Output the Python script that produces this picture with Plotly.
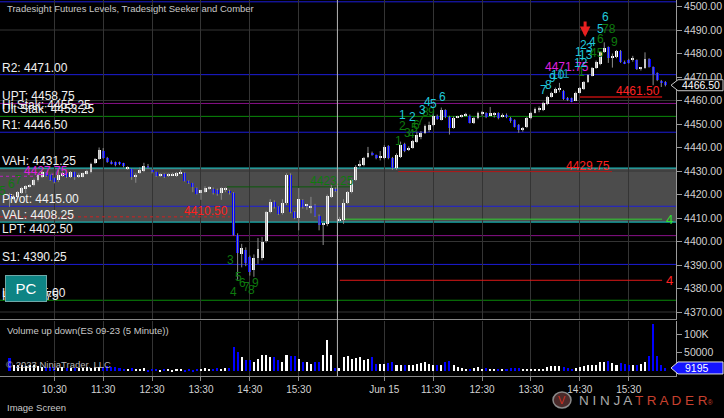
import plotly.graph_objects as go

# ------------------------------------------------------------------ data
tick_labels_hours = ["10:30", "11:30", "12:30", "13:30", "14:30", "15:30"]
session_first_tick = ["10:30", "Jun 15"]          # first label of each session
bars_per_session = 81                              # 5-minute bars 09:35 .. 16:15

opens1 = [4420, 4418.5, 4419, 4420.75, 4422.5, 4423.5, 4424, 4426, 4427.5, 4429.25,
          4428.25, 4427, 4426.25, 4428, 4429.25, 4427.5, 4429.5, 4427.5, 4427.5, 4428.75,
          4429.5, 4433.25, 4435, 4438.5, 4435.5, 4434, 4433.75, 4433.5, 4433.25, 4431,
          4430.75, 4427.5, 4429, 4430, 4432.25, 4430.5, 4429.5, 4428, 4428.75, 4428,
          4428.25, 4427.75, 4429, 4429.25, 4425.75, 4424.75, 4422.75, 4420.5, 4421, 4422.5,
          4422.5, 4422, 4420.5, 4422, 4421.5, 4420.5, 4402.75, 4394.75, 4396.5, 4393.5,
          4387.75, 4393, 4393, 4400.25, 4412.5, 4416.75, 4414.5, 4412, 4416.25, 4428.25,
          4412.5, 4410, 4417.75, 4415.5, 4414.5, 4415.5, 4411, 4407.25, 4407.5, 4419,
          4422.5]
highs1 = [4420.5, 4420, 4421.5, 4423.25, 4424, 4424.5, 4426.75, 4428.75, 4430, 4429.5,
          4428.5, 4427.25, 4430.5, 4429.75, 4429.5, 4430, 4429.75, 4429, 4429.25, 4430.5,
          4433.5, 4435.5, 4440, 4439.75, 4436, 4434.5, 4434, 4434, 4433.5, 4432,
          4431, 4429, 4431.5, 4433.5, 4433, 4430.75, 4429.75, 4429, 4429, 4429,
          4429.25, 4429.5, 4430.5, 4429.5, 4426, 4425, 4423, 4422, 4423.5, 4423.5,
          4423, 4422.5, 4423, 4423, 4422, 4421, 4403.5, 4399, 4397.5, 4394,
          4394.5, 4401.5, 4402, 4413, 4418, 4417.5, 4415, 4418, 4429, 4429,
          4413, 4422.75, 4418, 4416, 4419, 4416, 4411.5, 4408, 4420, 4424,
          4423]
lows1 = [4414.75, 4418, 4418.5, 4420.25, 4420.5, 4423, 4423.5, 4425.5, 4427, 4427.5,
         4425.75, 4424.75, 4425.25, 4427.5, 4427, 4427, 4426.25, 4427, 4427.25, 4428.5,
         4429, 4433, 4434.75, 4435.25, 4433.5, 4432.75, 4432, 4432.5, 4431.5, 4430.5,
         4426.25, 4425, 4428.75, 4429.5, 4431, 4429, 4427.5, 4427.5, 4427, 4427.5,
         4428, 4427.5, 4428.75, 4425.5, 4424.5, 4421, 4420, 4417.75, 4420.75, 4422,
         4420, 4419.5, 4417.75, 4421, 4420, 4402.5, 4383.75, 4389, 4389.5, 4385.5,
         4385, 4390.5, 4392, 4399.5, 4412, 4414, 4411.25, 4411.5, 4415.5, 4412,
         4409.5, 4404.75, 4414, 4413.5, 4412, 4410.5, 4404.75, 4398.5, 4406.5, 4418.5,
         4421]
closes1 = [4418.5, 4419, 4421, 4422.75, 4423.5, 4423.75, 4426.25, 4428.25, 4429.5, 4428,
           4426.25, 4425.25, 4428.25, 4429.25, 4427.5, 4429.5, 4427.5, 4428, 4429, 4430,
           4433, 4435, 4438.75, 4435.5, 4434, 4433.25, 4432.5, 4433, 4432, 4431.5,
           4427.5, 4428.25, 4430.5, 4432.25, 4431.5, 4429.5, 4428, 4428.25, 4427.5, 4428.5,
           4428.75, 4429.25, 4429.5, 4425.75, 4424.75, 4423.25, 4420.25, 4421.75, 4422.75, 4422.75,
           4420.5, 4420.25, 4422.75, 4422.25, 4420.5, 4402.75, 4395.25, 4397.25, 4391, 4387,
           4393, 4397, 4399.75, 4412.5, 4416.75, 4414.75, 4411.75, 4416.25, 4428.25, 4412.5,
           4410, 4418, 4414.5, 4415.75, 4414.75, 4411, 4407, 4407.5, 4419.25, 4422.75,
           4421.5]

opens2 = [4409, 4409.25, 4416.5, 4421, 4426.25, 4432.25, 4432.5, 4436, 4437.75, 4436.75,
          4435.75, 4435.5, 4440.5, 4435.5, 4431.25, 4436, 4441.5, 4439, 4439.75, 4442.5,
          4444.5, 4446.25, 4447.5, 4449.5, 4453.5, 4451.75, 4455.75, 4453, 4448.25, 4452.75,
          4453, 4453.5, 4453.5, 4450.5, 4452.5, 4454.5, 4454.75, 4453.75, 4454, 4454.5,
          4453.25, 4454, 4452.75, 4451.5, 4449.5, 4447.75, 4448.75, 4452.5, 4454.75, 4456.25,
          4456, 4458.5, 4461.5, 4463.25, 4464.5, 4464, 4460.75, 4461, 4460, 4463.25,
          4464.75, 4467.75, 4470.5, 4473.75, 4475.5, 4480.5, 4482.75, 4478.25, 4478.5, 4481,
          4476.5, 4477.25, 4477.5, 4477.25, 4473.5, 4473.75, 4477.75, 4474.25, 4471.75, 4468.5,
          4468]
highs2 = [4410.5, 4418, 4421.5, 4426.75, 4432.5, 4434.5, 4436, 4440.25, 4438.25, 4437,
          4438.5, 4441, 4441, 4436, 4437.5, 4442.5, 4442, 4440.5, 4443.25, 4446.75,
          4447, 4449.75, 4451, 4454.5, 4454, 4457, 4456.25, 4453.5, 4453.25, 4453.5,
          4454, 4454.75, 4454, 4453, 4455.25, 4455.5, 4455, 4457.25, 4455, 4455,
          4454.5, 4454.5, 4453, 4452, 4450, 4448.75, 4453, 4455.25, 4457, 4457.5,
          4459.5, 4462, 4463.75, 4465.5, 4467.5, 4464.5, 4461.5, 4461.25, 4463.75, 4465.75,
          4468.25, 4471.25, 4474.25, 4477, 4481, 4484.75, 4483, 4480, 4481.5, 4481.5,
          4477, 4477.75, 4479, 4477.5, 4474.25, 4480.5, 4478, 4474.5, 4472, 4468.75,
          4468.25]
lows2 = [4408.5, 4407.5, 4416, 4420.5, 4425.75, 4431.5, 4432, 4435.5, 4436.5, 4435,
         4434.5, 4435, 4435, 4430.5, 4430.5, 4435.5, 4438, 4438.5, 4439.5, 4442,
         4443.5, 4445.75, 4446.5, 4449, 4451.75, 4451.5, 4452.5, 4445.5, 4448, 4452.5,
         4452.75, 4453.25, 4450.25, 4450, 4452, 4453.5, 4452.5, 4453.5, 4452.75, 4452,
         4452.75, 4452.5, 4450.5, 4448.5, 4446.25, 4446.75, 4448.25, 4452, 4454.5, 4455,
         4455.5, 4458, 4461.25, 4463, 4463.5, 4460.25, 4459.75, 4459.25, 4459.75, 4463,
         4464.5, 4467.5, 4470.25, 4473.5, 4475, 4480.25, 4476, 4474, 4478, 4476,
         4475.5, 4475.75, 4476.5, 4473, 4472.75, 4473.5, 4474, 4466.5, 4468.25, 4465.75,
         4466]
closes2 = [4409.5, 4416.5, 4421, 4426.25, 4431.75, 4432.75, 4435.5, 4437.75, 4436.75, 4435.5,
           4436.25, 4440.25, 4435.5, 4431.25, 4436.75, 4441, 4438.5, 4439.5, 4442.75, 4445.25,
           4446, 4449.25, 4449.75, 4453.5, 4452.25, 4456, 4453, 4448.25, 4452.75, 4453,
           4453.5, 4454, 4450.5, 4452.5, 4454.75, 4454.5, 4453, 4454.5, 4454, 4452.5,
           4454, 4453, 4451.25, 4448.75, 4447.5, 4448, 4452.5, 4454.75, 4456.5, 4456.75,
           4459, 4461.5, 4463.25, 4465, 4465.25, 4460.75, 4460.5, 4459.5, 4463.25, 4465.25,
           4467.75, 4470.75, 4473.75, 4476.5, 4480.5, 4482.25, 4478, 4478.5, 4481, 4476.5,
           4475.75, 4476, 4478.25, 4473.5, 4473.75, 4477.75, 4474.25, 4471.25, 4468.75, 4467.5,
           4466.5]

volume_k1 = [35, 18, 16, 17, 15, 16, 17, 15, 13, 12, 13, 12, 10, 11, 9, 10, 8, 10, 9, 11,
             10, 12, 13, 11, 14, 13, 12, 8, 7, 6, 9, 7, 6, 8, 5, 7, 6, 5, 7, 6,
             5, 6, 7, 5, 6, 5, 7, 6, 8, 7, 6, 9, 7, 8, 10, 64, 53, 39, 30, 30,
             26, 33, 44, 44, 39, 39, 30, 26, 44, 41, 41, 33, 26, 26, 21, 24, 26, 45, 84, 45,
             8]
volume_k2 = [8, 39, 41, 33, 37, 39, 30, 33, 39, 21, 21, 21, 22, 25, 18, 18, 18, 16, 16, 20,
             22, 25, 20, 16, 16, 18, 25, 28, 16, 12, 10, 7, 7, 10, 12, 7, 10, 7, 7, 7,
             7, 7, 10, 10, 10, 7, 7, 7, 7, 7, 7, 12, 14, 14, 14, 12, 10, 7, 10, 12,
             14, 16, 16, 16, 25, 25, 28, 22, 18, 22, 20, 18, 18, 18, 20, 25, 41, 126, 41, 16,
             9.195]

# support / resistance levels drawn across the whole chart
level_names = ["", "R2", "UPT", "Ult Stak", "Hi Stak", "R1", "VAH", "Pivot", "VAL", "LPT", "S1", "II", "LL"]
level_values = [4502.0, 4471.00, 4458.75, 4453.25, 4455.25, 4446.50, 4431.25, 4415.00, 4408.25,
                4402.50, 4390.25, 4373.75, 4375.00]
level_kinds = ["r", "r", "pt", "st", "none", "r", "va", "r", "va", "pt", "r", "none", "st"]

value_area = [4408.25, 4431.25]
price_grid = [4370, 4400, 4430, 4460, 4490]

# partial levels
partial_values = [4410.50, 4427.75, 4423.25, 4429.75, 4461.50, 4471.75, 4409.50, 4383.50]
partial_start = [None, None, 54.4, 96.4, 141.0, 137.0, 82.9, 82.1]
partial_end = [55.1, 9.2, 84.6, 148.9, 161.2, 143.7, 161.2, 161.2]
partial_kind = ["reddot", "magdot", "dkgreen", "red", "dkred", "magtext", "green4", "red4"]

# seeker / comber counts: (text, slot, price, kind)
counts = [
    ("5", -0.8, 4421.6, "g"), ("6", 1.6, 4424.4, "g"), ("7", 3.3, 4426.0, "g"),
    ("3", 55.2, 4392.1, "g"), ("4", 56.1, 4378.5, "g"), ("5", 57.1, 4384.9, "g"),
    ("6", 58.3, 4382.3, "g"), ("7", 59.3, 4380.6, "g"), ("8", 60.3, 4379.4, "g"),
    ("9", 61.5, 4382.3, "g"),
    ("1", 96.4, 4442.8, "g"), ("2", 97.4, 4449.2, "g"), ("3", 98.6, 4446.2, "g"),
    ("4", 99.6, 4445.7, "g"), ("5", 100.3, 4448.3, "g"), ("6", 101.0, 4449.6, "g"),
    ("7", 102.0, 4451.3, "g"), ("8", 103.2, 4455.1, "g"), ("9", 104.5, 4455.1, "g"),
    ("1", 97.4, 4453.8, "c"), ("2", 100.0, 4453.0, "c"), ("3", 102.3, 4456.0, "c"),
    ("4", 103.5, 4459.4, "c"), ("5", 105.2, 4458.5, "c"), ("6", 107.2, 4461.5, "c"),
    ("7", 132.0, 4464.5, "c"), ("8", 133.2, 4466.6, "c"), ("9", 134.2, 4469.6, "c"),
    ("10", 135.6, 4470.9, "c"), ("11", 136.9, 4471.3, "dc"),
    ("1", 141.5, 4472.1, "g"), ("12", 141.3, 4476.0, "c"), ("13", 142.5, 4479.4, "c"),
    ("1", 140.6, 4480.6, "c"), ("2", 142.0, 4483.6, "c"), ("3", 143.3, 4482.3, "c"),
    ("4", 144.2, 4484.9, "c"), ("45", 145.2, 4480.2, "g"), ("6", 146.0, 4486.2, "g"),
    ("5", 146.0, 4490.4, "c"), ("6", 147.2, 4495.5, "c"), ("78", 148.2, 4490.4, "g"),
    ("9", 149.4, 4484.9, "g"),
]
signal_arrow = (142.3, 4487.0)

# ------------------------------------------------------------------ styles
BG = "#000000"
GRID = "#343434"
AXIS = "#9a9a9a"
TXT = "#d2d2d2"
UP, DOWN, WICK = "#ffffff", "#0000ff", "#8c8c8c"
FONT = "Liberation Sans, Arial, sans-serif"
KIND_COLOR = {"r": "#1c1cd8", "pt": "#8a108a", "st": "#0a8a0a", "va": "#18d0d0", "none": None}
COUNT_COLOR = {"g": "#0e7a0e", "c": "#20c8dc", "dc": "#1a9aa8"}
PLOT_W, PLOT_H = 676, 376

# ------------------------------------------------------------------ derived
opens = opens1 + opens2
highs = highs1 + highs2
lows = lows1 + lows2
closes = closes1 + closes2
volumes = [v * 1000 for v in volume_k1 + volume_k2]
slots = list(range(1, len(opens) + 1))


def tick_slot(session, hhmm):
    h, m = map(int, hhmm.split(":"))
    return session * bars_per_session + (h * 60 + m - 570) / 5


tick_vals, tick_text = [], []
for s in range(2):
    for j, hh in enumerate(tick_labels_hours):
        tick_vals.append(tick_slot(s, hh))
        tick_text.append(session_first_tick[s] if j == 0 else hh)
session_break = bars_per_session + 0.5

px_per_bar = (628.7 - 54.3) / (tick_vals[-1] - tick_vals[0])
x0_slot = tick_vals[0] - 54.3 / px_per_bar
xr = [x0_slot, x0_slot + PLOT_W / px_per_bar]
pts_per_px = 10 / 23.5
price_top = 4500 + 6.5 * pts_per_px
yr = [price_top - 319 * pts_per_px, price_top]
vol_per_px = 50000 / 18.7
vr = [-(376 - 371.4) * vol_per_px, (371.4 - 321) * vol_per_px]

colors = [UP if c >= o else DOWN for o, c in zip(opens, closes)]
body_base = [min(o, c) for o, c in zip(opens, closes)]
body_h = [max(abs(c - o), 0.4) for o, c in zip(opens, closes)]

wx, wy = [], []
for s, h, l in zip(slots, highs, lows):
    wx += [s, s, None]
    wy += [l, h, None]

fig = go.Figure()
fig.add_trace(go.Scatter(x=wx, y=wy, mode="lines", line=dict(color=WICK, width=1),
                         hoverinfo="skip", xaxis="x", yaxis="y"))
fig.add_trace(go.Bar(x=slots, y=body_h, base=body_base, width=0.72,
                     marker=dict(color=colors, line=dict(width=0)), xaxis="x", yaxis="y"))
fig.add_trace(go.Bar(x=slots, y=volumes, width=0.5,
                     marker=dict(color=colors, line=dict(width=0)), xaxis="x2", yaxis="y2"))

shapes = []
shapes.append(dict(type="rect", xref="paper", yref="y", x0=0, x1=1, y0=value_area[0], y1=value_area[1],
                   fillcolor="rgba(112,112,112,0.68)", line=dict(width=0), layer="between"))
for g in price_grid:
    shapes.append(dict(type="line", xref="paper", yref="y", x0=0, x1=1, y0=g, y1=g,
                       line=dict(color=GRID, width=1), layer="below"))
for name, val, kind in zip(level_names, level_values, level_kinds):
    col = KIND_COLOR[kind]
    if col:
        shapes.append(dict(type="line", xref="paper", yref="y", x0=0, x1=1, y0=val, y1=val,
                           line=dict(color=col, width=1), layer="between"))

partial_style = {
    "reddot": dict(color="#d02020", width=1, dash="dot"),
    "magdot": dict(color="#c020c0", width=1, dash="dot"),
    "dkgreen": dict(color="#0a5a0a", width=1),
    "red": dict(color="#b01818", width=1),
    "dkred": dict(color="#8a0a0a", width=2),
    "green4": dict(color="#30d030", width=1),
    "red4": dict(color="#e01818", width=1),
}
for val, a, b, kind in zip(partial_values, partial_start, partial_end, partial_kind):
    if kind in partial_style:
        shapes.append(dict(type="line", xref="x", yref="y", x0=xr[0] if a is None else a, x1=b,
                           y0=val, y1=val, line=partial_style[kind], layer="between"))

shapes.append(dict(type="line", xref="x", yref="paper", x0=session_break, x1=session_break, y0=0, y1=1,
                   line=dict(color="#b4b4b4", width=1), layer="above"))

last = closes[-1]
hp = 5.5 * pts_per_px
shapes.append(dict(type="path", xref="paper", yref="y",
                   path=f"M {671/PLOT_W},{last} L {678/PLOT_W},{last+hp} L {723/PLOT_W},{last+hp} "
                        f"L {723/PLOT_W},{last-hp} L {678/PLOT_W},{last-hp} Z",
                   fillcolor="#000000", line=dict(color="#c8c8c8", width=1), layer="above"))
lv = volumes[-1]
hv = 6 * vol_per_px
shapes.append(dict(type="path", xref="paper", yref="y2",
                   path=f"M {671/PLOT_W},{lv} L {678/PLOT_W},{lv+hv} L {723/PLOT_W},{lv+hv} "
                        f"L {723/PLOT_W},{lv-hv} L {678/PLOT_W},{lv-hv} Z",
                   fillcolor="#1414ff", line=dict(color="#e0e0e0", width=1), layer="above"))
shapes.append(dict(type="circle", xref="paper", yref="paper", x0=553/PLOT_W, x1=571/PLOT_W,
                   y0=1-408/PLOT_H, y1=1-392/PLOT_H, fillcolor="#4a2a2a",
                   line=dict(color="#8a8a8a", width=1.5), layer="above"))

ann = []


def text(x, y, t, color=TXT, size=12, xref="paper", yref="paper", xanchor="left", yanchor="middle",
         yshift=0, **kw):
    ann.append(dict(x=x, y=y, text=t, xref=xref, yref=yref, xanchor=xanchor, yanchor=yanchor,
                    yshift=yshift, showarrow=False, font=dict(color=color, size=size, family=FONT), **kw))


for name, val in zip(level_names, level_values):
    if name:
        text(0, val, f"{name}: {val:.2f}", "#f0f0f0", 12, yref="y", yshift=7)

part_label_style = {"reddot": "#ff2020", "dkgreen": "#0e7a0e", "red": "#ff2020",
                    "dkred": "#ff2020", "magtext": "#e020e0"}
for val, a, b, kind in zip(partial_values, partial_start, partial_end, partial_kind):
    if kind == "magdot":
        text(22 / PLOT_W, val, f"{val:.2f}", "#e020e0", 12, yref="y", yshift=5)
    elif kind in part_label_style:
        xe = b + (1.5 if kind == "dkgreen" else 0)
        text(xe, val, f"{val:.2f}", part_label_style[kind], 12, xref="x", yref="y",
             xanchor="right", yshift=6)
    elif kind == "green4":
        text(163.0, val, "4", "#30e030", 13, xref="x", yref="y", xanchor="center")
    elif kind == "red4":
        text(163.0, val, "4", "#ff2020", 13, xref="x", yref="y", xanchor="center")

for t, sx, py, k in counts:
    text(sx, py, t, COUNT_COLOR[k], 12, xref="x", yref="y", xanchor="center")

ann.append(dict(x=signal_arrow[0], y=signal_arrow[1], xref="x", yref="y", text="", showarrow=True,
                ax=0, ay=-17, arrowhead=2, arrowsize=0.7, arrowwidth=3, arrowcolor="#e82020",
                standoff=0))

text(5 / PLOT_W, 1 - 9 / PLOT_H, "Tradesight Futures Levels, Tradesight Seeker and Comber", "#c8c8c8", 9.5)
text(5 / PLOT_W, 1 - 330 / PLOT_H, "Volume up down(ES 09-23 (5 Minute))", "#c8c8c8", 9.5)
text(4 / PLOT_W, 1 - 364 / PLOT_H, "© 2023 NinjaTrader, LLC", "#b4b4b4", 9.5)
text(5 / PLOT_W, 1 - 408 / PLOT_H, "Image Screen", "#c8c8c8", 9.5)
text(700.5 / PLOT_W, last, f"{last:.2f}", "#ffffff", 10.5, yref="y", xanchor="center")
text(697 / PLOT_W, lv, f"{lv:.0f}", "#ffffff", 10.5, yref="y2", xanchor="center")
text(5 / PLOT_W, 1 - 288 / PLOT_H, "PC", "#ffffff", 15, bgcolor="#0e8484", bordercolor="#6fa8a8",
     borderwidth=1, width=38, height=23, align="center")
text(577 / PLOT_W, 1 - 400 / PLOT_H,
     "<span style='color:#a8a8a8'>N I N J A</span> <span style='color:#c8402e'>T R A D E R</span>"
     "<span style='color:#c8402e;font-size:7px'>®</span>", "#a8a8a8", 13.5)
text(562 / PLOT_W, 1 - 400 / PLOT_H, "V", "#d03020", 11, xanchor="center")

fig.update_layout(
    width=724, height=418, margin=dict(l=0, r=48, t=0, b=42),
    paper_bgcolor=BG, plot_bgcolor=BG, showlegend=False, bargap=0,
    font=dict(family=FONT, color=TXT, size=10),
    shapes=shapes, annotations=ann,
    xaxis=dict(domain=[0, 1], range=xr, anchor="y", tickvals=tick_vals, showticklabels=False,
               showgrid=True, gridcolor=GRID, gridwidth=1, zeroline=False, ticks="",
               showline=True, linecolor="#8a8a8a", linewidth=1),
    xaxis2=dict(domain=[0, 1], range=xr, anchor="y2", matches="x", tickvals=tick_vals, ticktext=tick_text,
                showgrid=True, gridcolor=GRID, gridwidth=1, zeroline=False, ticks="outside", ticklen=4,
                tickcolor="#8a8a8a", showline=True, linecolor="#8a8a8a", linewidth=1,
                tickfont=dict(size=10, color=TXT)),
    yaxis=dict(domain=[1 - 319 / PLOT_H, 1], range=yr, side="right", anchor="x", tickmode="linear",
               tick0=4370, dtick=10, tickformat=".2f", showgrid=False, zeroline=False, ticks="outside",
               ticklen=5, tickcolor=AXIS, showline=True, linecolor=AXIS, linewidth=1,
               tickfont=dict(size=10.5, color=TXT)),
    yaxis2=dict(domain=[0, 1 - 321 / PLOT_H], range=vr, side="right", anchor="x2",
                tickvals=[50000, 100000], ticktext=["50000", "100K"], showgrid=False, zeroline=False,
                ticks="outside", ticklen=5, tickcolor=AXIS, showline=True, linecolor=AXIS, linewidth=1,
                tickfont=dict(size=10.5, color=TXT)),
)

fig.write_html("out.html", config={"displayModeBar": False},
               post_script="document.body.style.margin='0';document.body.style.background='#000';")
